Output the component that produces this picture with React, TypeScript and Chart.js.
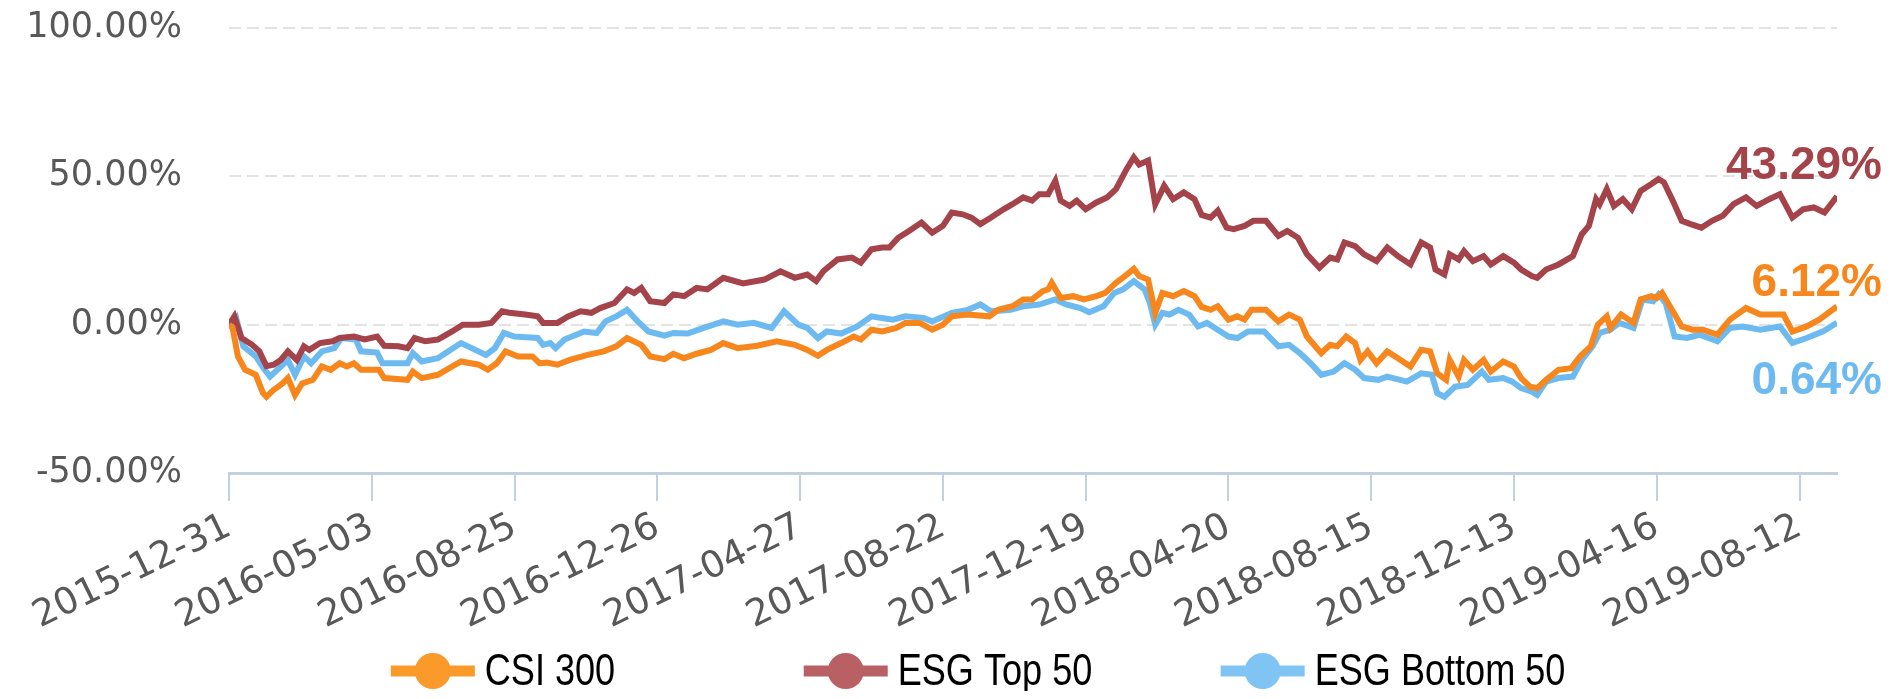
import React, { useEffect, useRef } from 'react';
import { Chart, registerables } from 'chart.js';

Chart.register(...registerables);

// ---- data (x = trading-day index since 2015-12-31, y = cumulative return in %) ----
const tickDays = [0, 80, 160, 240, 320, 400, 480, 560, 640, 720, 800, 880];
const tickLabels = [
  '2015-12-31', '2016-05-03', '2016-08-25', '2016-12-26', '2017-04-27', '2017-08-22',
  '2017-12-19', '2018-04-20', '2018-08-15', '2018-12-13', '2019-04-16', '2019-08-12',
];
const yTicks = [-50, 0, 50, 100];
const lastDay = 901;

const seriesNames = ['CSI 300', 'ESG Top 50', 'ESG Bottom 50'];

const csiDays = [0, 2, 5, 9, 15, 19, 21, 25, 30, 33, 37, 41, 47, 52, 57, 62, 66, 70, 74, 84, 87, 100, 103, 108, 117, 125, 130, 140, 145, 150, 155, 162, 170, 174, 178, 184, 191, 201, 210, 217, 223, 231, 236, 244, 249, 255, 262, 270, 277, 285, 296, 307, 317, 324, 330, 335, 343, 350, 354, 360, 366, 374, 379, 387, 394, 400, 405, 414, 426, 431, 439, 445, 450, 456, 459, 461, 466, 473, 479, 486, 491, 497, 502, 507, 510, 515, 519, 523, 529, 535, 541, 545, 550, 554, 560, 565, 569, 573, 581, 588, 594, 600, 604, 612, 617, 621, 626, 631, 634, 638, 643, 649, 655, 662, 668, 673, 677, 682, 684, 689, 692, 697, 703, 707, 714, 720, 724, 729, 733, 738, 745, 752, 757, 763, 767, 772, 774, 780, 787, 791, 797, 800, 803, 809, 814, 820, 826, 834, 841, 850, 858, 871, 876, 884, 891, 901];
const csiValues = [0, -1, -10.7, -15.2, -16.9, -23, -24.3, -22, -19.8, -18, -23.7, -19.8, -18.6, -14.1, -15.2, -13, -14.1, -13, -15.2, -15.2, -18, -18.6, -15.8, -18, -16.9, -14.1, -12.4, -13.5, -15.2, -13, -9, -10.7, -10.7, -13, -12.8, -13.5, -11.9, -10.2, -9, -7.3, -4.5, -6.8, -10.7, -11.6, -9.8, -11.3, -9.8, -8.5, -6.2, -7.9, -7.1, -5.6, -6.8, -8.5, -10.5, -8.5, -6.2, -4, -5, -1.7, -2.3, -1.1, 0.6, 0.6, -1.7, 0, 2.8, 3.4, 2.8, 5, 6.2, 8.5, 8.5, 11.3, 11.9, 14.1, 9, 9.6, 8.5, 9.6, 10.7, 14.1, 16.4, 18.8, 16.4, 15.2, 4, 10.7, 9.6, 11.3, 9.6, 6, 5, 6.2, 1.7, 2.8, 1.7, 5, 5, 1.1, 3.4, 1.7, -4, -9.6, -6.8, -7.3, -4, -6.2, -11.9, -9, -13, -9, -11.3, -14.1, -8.5, -9, -16.4, -18.6, -11.9, -17.5, -11.9, -15.2, -11.9, -15.8, -12.4, -14.1, -18, -20.9, -21.4, -18.6, -15.2, -14.7, -10.7, -7.3, 0, 2.8, -1.1, 3.4, 0.6, 8.5, 9.6, 9, 10.7, 4.5, -0.6, -1.7, -1.7, -3.4, 1.7, 5.6, 3.4, 3.4, -2.3, -0.6, 1.7, 6.12];

const topDays = [0, 3, 7, 13, 17, 21, 25, 29, 33, 38, 42, 45, 51, 58, 62, 70, 76, 83, 87, 95, 100, 104, 110, 117, 125, 131, 140, 147, 153, 157, 166, 173, 176, 184, 190, 197, 203, 208, 216, 223, 227, 231, 236, 244, 249, 255, 262, 268, 277, 288, 300, 309, 317, 324, 329, 333, 341, 349, 354, 360, 366, 370, 375, 381, 388, 394, 400, 405, 411, 416, 421, 427, 434, 439, 445, 450, 454, 459, 463, 466, 471, 475, 480, 486, 492, 497, 503, 507, 510, 515, 519, 524, 529, 535, 541, 545, 550, 554, 559, 563, 569, 574, 581, 588, 593, 599, 604, 611, 617, 621, 625, 631, 636, 643, 649, 655, 662, 668, 673, 676, 681, 684, 689, 692, 697, 703, 707, 714, 720, 724, 730, 733, 738, 745, 753, 758, 762, 766, 768, 772, 776, 781, 786, 791, 797, 801, 804, 809, 814, 819, 825, 831, 837, 843, 850, 856, 863, 869, 876, 882, 888, 894, 901];
const topValues = [0, 2.8, -4.5, -6.8, -9, -14, -13.5, -11.9, -9, -11.9, -7.3, -8.5, -6.2, -5.6, -4.5, -4, -5, -4, -7.1, -7.3, -7.9, -4.5, -5.6, -5, -2.3, 0, 0, 0.6, 4.5, 4, 3.4, 2.8, 0.6, 0.6, 2.8, 4.5, 4, 5.6, 7.3, 11.9, 10.7, 12.4, 7.9, 7.3, 10.2, 9.6, 12.4, 11.9, 15.8, 13.9, 15.2, 18, 15.8, 16.9, 14.7, 18, 22, 22.6, 20.9, 25.4, 26, 26, 29.3, 31.6, 34.4, 31, 33.3, 37.8, 37.2, 36.1, 33.9, 36.1, 38.9, 40.6, 42.9, 41.8, 44, 44, 48.5, 41.8, 40, 41.8, 38.9, 41.2, 42.9, 45.7, 52.5, 56.4, 54, 55.3, 40.6, 46.8, 42.3, 44.6, 42.3, 37, 36.1, 38.4, 32.7, 32.2, 33.3, 35, 35, 29.9, 31.6, 29.3, 23.7, 19.2, 22.6, 22, 27.7, 26.5, 23.7, 21.4, 26, 23.1, 20.3, 27.7, 26, 18.6, 16.9, 23.7, 22, 24.8, 21.4, 23.1, 20.3, 23.1, 20.9, 18.6, 16.4, 15.8, 18.6, 20.3, 23.1, 30.5, 33.3, 42.3, 40.6, 45.7, 40, 42.3, 38.9, 45.1, 47.4, 49.1, 48, 41.8, 35, 33.9, 32.7, 35, 36.7, 40.6, 42.9, 40, 42.3, 44, 36.1, 38.9, 39.5, 37.8, 43.29];

const botDays = [0, 4, 8, 15, 20, 23, 28, 33, 37, 42, 46, 52, 59, 63, 71, 74, 83, 86, 100, 103, 108, 117, 124, 130, 136, 144, 149, 154, 160, 173, 176, 180, 183, 188, 199, 206, 211, 217, 223, 229, 235, 244, 249, 257, 266, 277, 285, 294, 304, 311, 319, 324, 330, 335, 343, 352, 360, 365, 372, 379, 389, 394, 405, 414, 421, 427, 438, 445, 454, 463, 469, 477, 482, 490, 496, 501, 507, 513, 516, 519, 523, 527, 532, 538, 543, 548, 554, 560, 565, 571, 580, 588, 594, 600, 606, 612, 619, 625, 631, 636, 644, 649, 660, 668, 674, 677, 681, 687, 694, 702, 706, 714, 719, 724, 730, 733, 738, 745, 753, 758, 764, 768, 774, 779, 787, 792, 798, 801, 805, 810, 817, 824, 834, 841, 848, 858, 869, 876, 884, 893, 901];
const botValues = [0, 2.3, -7.3, -10.7, -15.2, -17.5, -14.7, -11.9, -16.9, -10.7, -13, -9, -7.9, -4.5, -5, -9, -9.4, -13, -13, -9.6, -12.4, -11.3, -8.5, -6.2, -7.9, -10.2, -7.9, -2.8, -4, -4.5, -6.8, -6.2, -7.9, -5, -2.3, -2.8, 1.1, 2.8, 5, 1.1, -2.3, -3.7, -2.8, -3, -1.1, 1.1, 0, 0.6, -1.1, 4.5, 0, -1.1, -4.5, -2.3, -3, -0.6, 2.8, 2.3, 1.7, 2.8, 2.3, 1.1, 4, 5, 6.8, 4.5, 5, 6.2, 6.8, 8.5, 6.8, 5.6, 4.2, 6.2, 10.7, 11.9, 14.7, 11.9, 7.3, 0, 4, 3.4, 5, 3.4, -0.6, 0.6, -1.7, -4, -4.5, -2.3, -2.3, -7.3, -6.8, -9.6, -13, -16.9, -15.8, -13, -15.2, -18, -18.6, -17.5, -19.2, -16.4, -16.9, -23.1, -24.3, -20.9, -20.3, -15.8, -18.6, -18, -19.2, -21.4, -22.6, -23.7, -19.2, -18, -17.5, -11.9, -7.3, -2.8, -1.7, 0.6, -1.1, 8.5, 7.9, 10.2, 7.3, -4, -4.5, -3.4, -5.6, -1.1, -0.6, -1.7, -0.6, -6.2, -4.5, -2.3, 0.64];

// ---- styles ----
const lineColors = ['#F7861C', '#A5434B', '#6DBAF0'];
const legendColors = ['#F99A2B', '#B96064', '#80C4F4'];
const endLabelOffsets = [-23, -30, 59];
const axisColor = '#c3d0de';
const labelColor = '#585858';

const toPoints = (days: number[], vals: number[]) => days.map((d, i) => ({ x: d, y: vals[i] }));

const overlayPlugin = {
  id: 'overlayLabels',
  afterDraw(chart: any) {
    const ctx = chart.ctx as CanvasRenderingContext2D;
    const area = chart.chartArea;
    const ys = chart.scales.y;
    const finals = [csiValues, topValues, botValues].map((a) => a[a.length - 1]);
    ctx.save();
    // end-of-line value labels
    ctx.font = 'bold 46px "Liberation Sans", Arial, sans-serif';
    ctx.textAlign = 'right';
    ctx.textBaseline = 'middle';
    finals.forEach((v, i) => {
      ctx.fillStyle = lineColors[i];
      ctx.fillText(v.toFixed(2) + '%', area.right + 45, ys.getPixelForValue(v) + endLabelOffsets[i]);
    });
    // legend
    const ly = 663;
    const iconW = 84;
    const gap = 10;
    const sx = 0.82;
    ctx.font = '44px "Liberation Sans", Arial, sans-serif';
    ctx.textAlign = 'left';
    seriesNames.forEach((name, i) => {
      const tw = ctx.measureText(name).width * sx;
      const w = iconW + gap + tw;
      const cx = chart.width / 2 + (i - 1) * 445;
      const x0 = cx - w / 2;
      ctx.fillStyle = legendColors[i];
      ctx.fillRect(x0, ly - 5.5, iconW, 11);
      ctx.beginPath();
      ctx.arc(x0 + iconW / 2, ly, 18, 0, Math.PI * 2);
      ctx.fill();
      ctx.save();
      ctx.translate(x0 + iconW + gap, ly + 2);
      ctx.scale(sx, 1);
      ctx.fillStyle = '#000';
      ctx.fillText(name, 0, 0);
      ctx.restore();
    });
    ctx.restore();
  },
};

export default function App() {
  const ref = useRef<HTMLCanvasElement | null>(null);

  useEffect(() => {
    if (!ref.current) return;
    const chart = new Chart(ref.current, {
      type: 'line',
      data: {
        datasets: [
          { label: seriesNames[0], data: toPoints(csiDays, csiValues), borderColor: lineColors[0] },
          { label: seriesNames[1], data: toPoints(topDays, topValues), borderColor: lineColors[1] },
          { label: seriesNames[2], data: toPoints(botDays, botValues), borderColor: lineColors[2] },
        ].map((d) => ({ ...d, borderWidth: 6, pointRadius: 0, tension: 0, fill: false, backgroundColor: d.borderColor })),
      },
      options: {
        animation: false,
        responsive: false,
        devicePixelRatio: 1,
        layout: { padding: { left: 0, right: 51, top: 20, bottom: 0 } },
        plugins: { legend: { display: false }, tooltip: { enabled: false } },
        scales: {
          x: {
            type: 'linear',
            min: 0,
            max: lastDay,
            afterBuildTicks: (s: any) => {
              s.ticks = tickDays.map((v) => ({ value: v }));
            },
            afterFit: (s: any) => {
              s.height = 218;
              s.paddingLeft = 0;
              s.paddingRight = 0;
            },
            grid: { drawOnChartArea: false, drawTicks: true, tickLength: 28, tickColor: axisColor, lineWidth: 2 },
            border: { display: true, color: axisColor, width: 3 },
            ticks: {
              autoSkip: false,
              minRotation: 26,
              maxRotation: 26,
              padding: 4,
              color: labelColor,
              font: { family: '"DejaVu Sans", sans-serif', size: 37 },
              callback: (v: any) => {
                const i = tickDays.indexOf(Number(v));
                return i >= 0 ? tickLabels[i] : '';
              },
            },
          },
          y: {
            type: 'linear',
            min: -50,
            max: 100,
            afterBuildTicks: (s: any) => {
              s.ticks = yTicks.map((v) => ({ value: v }));
            },
            afterFit: (s: any) => {
              s.width = 221;
              s.paddingTop = 0;
              s.paddingBottom = 0;
            },
            grid: {
              color: (c: any) => (c.tick && c.tick.value === -50 ? 'rgba(0,0,0,0)' : '#e3e3e3'),
              lineWidth: 2,
              drawTicks: false,
            },
            border: { display: false, dash: [12, 6] },
            ticks: {
              padding: 47,
              color: labelColor,
              font: { family: '"DejaVu Sans", sans-serif', size: 35 },
              callback: (v: any) => Number(v).toFixed(2) + '%',
            },
          },
        },
      },
      plugins: [overlayPlugin],
    } as any);
    return () => chart.destroy();
  }, []);

  return (
    <div style={{ width: 1880, height: 683 }}>
      <canvas ref={ref} width={1880} height={683} style={{ display: 'block' }} />
    </div>
  );
}
